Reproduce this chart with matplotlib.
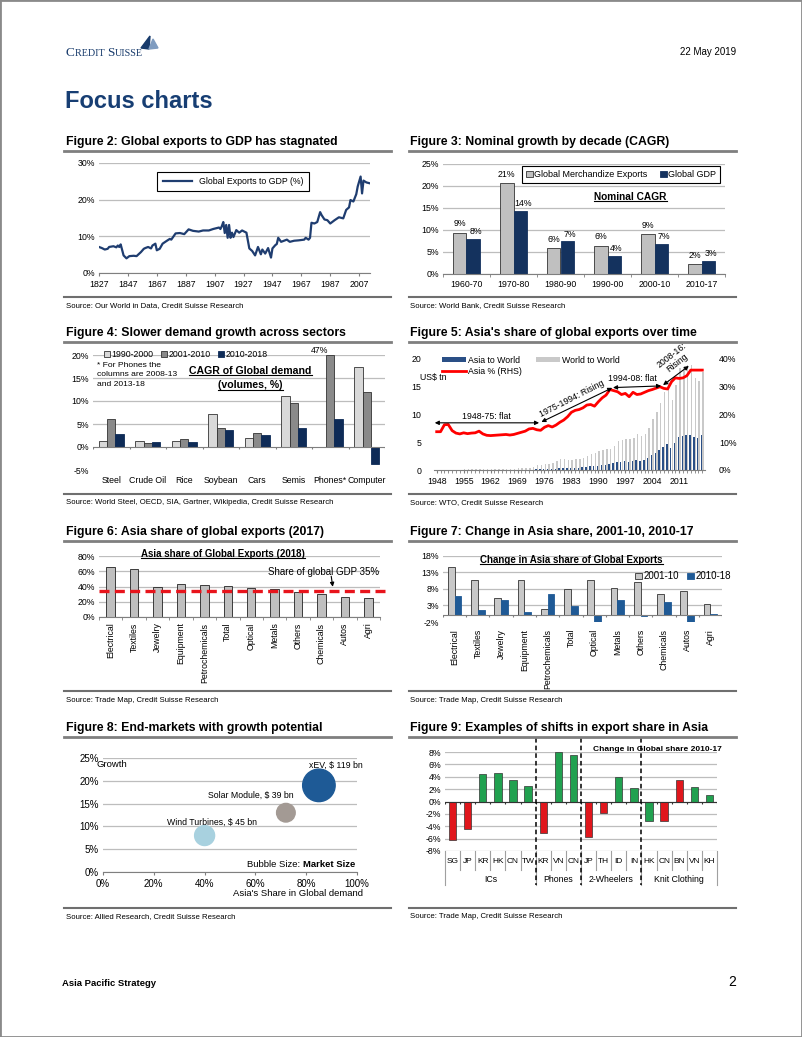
import numpy as np
import matplotlib
matplotlib.use('Agg')
import matplotlib.pyplot as plt
from matplotlib.lines import Line2D
from matplotlib.patches import Rectangle, Polygon

plt.rcParams['font.family'] = ['Liberation Sans Narrow', 'Liberation Sans', 'DejaVu Sans']
plt.rcParams['font.size'] = 6.5
plt.rcParams['axes.linewidth'] = 0.8

# ---------------- data ----------------
# Figure 2: global exports to GDP (%)
exp_years = [1827, 1829, 1831, 1833, 1834, 1837, 1839, 1840, 1841, 1842, 1844, 1846, 1848, 1851,
             1853, 1856, 1858, 1859, 1861, 1863, 1864, 1866, 1867, 1869, 1871, 1874, 1876, 1877,
             1880, 1883, 1886, 1889, 1892, 1896, 1899, 1903, 1906, 1910, 1911, 1912, 1913, 1914,
             1915, 1916, 1917, 1918, 1919, 1920, 1922, 1924, 1926, 1929, 1931, 1933, 1935, 1937,
             1939, 1940, 1942, 1944, 1946, 1947, 1949, 1950, 1951, 1953, 1955, 1957, 1959, 1962,
             1965, 1969, 1970, 1972, 1973, 1974, 1976, 1978, 1980, 1981, 1983, 1985, 1987, 1990,
             1993, 1996, 1998, 2000, 2001, 2003, 2005, 2006, 2008, 2009, 2010, 2012, 2014]
exp_gdp = [7.1, 6.8, 6.4, 6.6, 7.1, 7.3, 7.0, 7.5, 7.1, 7.8, 4.8, 4.0, 4.6, 4.7,
           4.6, 5.7, 6.6, 6.8, 7.1, 6.7, 7.5, 8.0, 6.2, 6.6, 8.0, 8.8, 9.3, 9.1,
           10.8, 10.9, 10.6, 11.9, 11.5, 11.3, 11.6, 11.6, 12.0, 12.4, 12.0, 12.8, 13.9, 10.9,
           13.1, 9.6, 13.1, 9.6, 11.0, 9.8, 11.7, 11.0, 11.6, 11.0, 6.7, 6.0, 4.8, 7.1,
           5.1, 6.4, 5.3, 6.8, 4.2, 6.7, 7.6, 7.9, 9.6, 8.5, 8.8, 9.1, 8.5, 8.8,
           8.9, 9.1, 9.6, 9.1, 9.6, 13.7, 13.5, 13.9, 16.6, 15.8, 14.6, 14.4, 13.5, 14.4,
           15.2, 14.9, 17.2, 17.9, 19.9, 19.5, 21.5, 23.6, 26.3, 21.7, 25.2, 24.7, 24.5]

# Figure 3: nominal CAGR by decade (%)
decades = ['1960-70', '1970-80', '1980-90', '1990-00', '2000-10', '2010-17']
merch_exports = [9.4, 20.7, 5.9, 6.4, 9.1, 2.2]
global_gdp = [8.0, 14.3, 7.4, 4.1, 6.9, 3.0]

# Figure 4: CAGR of global demand (%)
sectors = ['Steel', 'Crude Oil', 'Rice', 'Soybean', 'Cars', 'Semis', 'Phones*', 'Computer']
cagr_90_00 = [1.2, 1.2, 1.4, 7.1, 1.9, 11.1, np.nan, 17.4]
cagr_01_10 = [6.0, 0.8, 1.7, 4.2, 3.0, 9.5, 47.0, 11.9]
cagr_10_18 = [2.8, 1.0, 1.0, 3.7, 2.7, 4.1, 6.0, -3.6]

# Figure 5: exports (US$ tn) and Asia share (%)
years5 = list(range(1948, 2018))
world_exports = [0.059, 0.058, 0.062, 0.082, 0.080, 0.083, 0.086, 0.094, 0.104, 0.112,
                 0.108, 0.116, 0.130, 0.134, 0.142, 0.155, 0.173, 0.188, 0.205, 0.215,
                 0.240, 0.274, 0.317, 0.354, 0.419, 0.579, 0.839, 0.877, 0.992, 1.128,
                 1.307, 1.659, 2.036, 2.009, 1.883, 1.846, 1.956, 1.954, 2.138, 2.516,
                 2.869, 3.081, 3.49, 3.515, 3.766, 3.782, 4.326, 5.17, 5.39, 5.59,
                 5.50, 5.72, 6.45, 6.19, 6.49, 7.59, 9.22, 10.51, 12.13, 14.02,
                 16.16, 12.56, 15.30, 18.34, 18.50, 18.95, 19.0, 16.55, 16.04, 17.73]
asia_exports = [0.008, 0.008, 0.011, 0.013, 0.011, 0.011, 0.012, 0.013, 0.014, 0.015,
                0.015, 0.016, 0.017, 0.017, 0.017, 0.019, 0.021, 0.024, 0.026, 0.027,
                0.031, 0.035, 0.043, 0.049, 0.059, 0.085, 0.12, 0.125, 0.155, 0.18,
                0.21, 0.255, 0.335, 0.35, 0.35, 0.37, 0.40, 0.41, 0.47, 0.56,
                0.65, 0.75, 0.80, 0.88, 0.98, 1.10, 1.27, 1.50, 1.48, 1.59,
                1.46, 1.59, 1.82, 1.67, 1.82, 2.16, 2.67, 3.09, 3.58, 4.07,
                4.69, 4.02, 4.90, 5.96, 6.11, 6.35, 6.37, 5.96, 5.78, 6.30]
asia_share = [13.8, 13.8, 16.3, 16.4, 14.2, 13.3, 13.0, 13.4, 13.1, 13.3,
              13.4, 14.0, 13.0, 12.5, 12.4, 12.5, 12.6, 12.7, 12.8, 12.6,
              12.8, 13.2, 13.6, 14.0, 14.8, 15.0, 14.5, 14.3, 15.4, 16.0,
              15.5, 16.2, 17.2, 18.0, 19.2, 20.8, 21.5, 21.8, 22.4, 23.4,
              23.6, 23.0, 24.6, 26.0, 27.0, 29.0, 28.6, 28.2, 27.2, 27.6,
              26.4, 28.0, 27.2, 27.4, 28.0, 28.6, 29.0, 29.5, 30.0, 29.4,
              29.2, 31.8, 33.2, 33.0, 33.2, 34.0, 36.0, 36.0, 36.0, 36.0]

# Figures 6 and 7
products = ['Electrical', 'Textiles', 'Jewelry', 'Equipment', 'Petrochemicals', 'Total',
            'Optical', 'Metals', 'Others', 'Chemicals', 'Autos', 'Agri']
asia_share_2018 = [65.5, 63.3, 39.3, 43.2, 42.4, 40.6, 37.6, 36.7, 32.8, 30.6, 26.6, 25.3]
gdp_share = 34
chg_01_10 = [14.8, 10.7, 5.4, 10.7, 1.9, 7.9, 10.7, 8.4, 10.2, 6.4, 7.5, 3.6]
chg_10_18 = [6.0, 1.5, 4.8, 0.9, 6.5, 2.9, -2.0, 4.6, -0.1, 4.1, -2.0, 0.5]

# Figure 8: bubbles
markets = ['Wind Turbines', 'Solar Module', 'xEV']
asia_demand = [0.40, 0.72, 0.85]
growth = [0.08, 0.13, 0.19]
market_size = [45, 39, 119]

# Figure 9: change in global share 2010-17 (%)
groups = ['ICs', 'Phones', '2-Wheelers', 'Knit Clothing']
group_countries = [['SG', 'JP', 'KR', 'HK', 'CN', 'TW'], ['KR', 'VN', 'CN'],
                   ['JP', 'TH', 'ID', 'IN'], ['HK', 'CN', 'BN', 'VN', 'KH']]
share_change = [-6.2, -4.4, 4.5, 4.6, 3.4, 2.5, -5.1, 8.0, 7.5, -5.8, -1.9, 4.0, 2.2,
                -3.1, -3.2, 3.4, 2.3, 1.1]
is_red = [1, 1, 0, 0, 0, 0, 1, 0, 0, 1, 1, 0, 0, 0, 1, 1, 0, 0]

# ---------------- page ----------------
W, H = 802, 1037
fig = plt.figure(figsize=(W / 100, H / 100), dpi=100)
renderer = fig.canvas.get_renderer()
GRID = '#bdbdbd'
NAVY = '#173a6b'
TS = 6.3  # tick label size


def px_ax(l, t, r, b):
    return fig.add_axes([l / W, 1 - b / H, (r - l) / W, (b - t) / H])


def ftext(x, y, s, **kw):
    return fig.text(x / W, 1 - y / H, s, **kw)


def fline(x0, x1, y0, y1, **kw):
    fig.add_artist(Line2D([x0 / W, x1 / W], [1 - y0 / H, 1 - y1 / H],
                          transform=fig.transFigure, **kw))


def underline(t, lw=0.8):
    bb = t.get_window_extent(renderer)
    fig.add_artist(Line2D([bb.x0 / W, bb.x1 / W], [(bb.y0 + 0.5) / H] * 2,
                          transform=fig.transFigure, color='black', lw=lw))


def clean(ax, grid=True):
    for s in ['top', 'right', 'left']:
        ax.spines[s].set_visible(False)
    ax.spines['bottom'].set_color('#7f7f7f')
    ax.tick_params(axis='y', length=0, pad=3, labelsize=TS)
    ax.tick_params(axis='x', labelsize=TS)
    if grid:
        ax.yaxis.grid(True, color=GRID, lw=0.9)
        ax.set_axisbelow(True)


def pct(ax, dec=0):
    ax.set_yticklabels([f'{v:.{dec}f}%' for v in ax.get_yticks()])


# border, header, footer
fig.add_artist(Rectangle((0, 0), 1, 1, transform=fig.transFigure, fill=False,
                         edgecolor='#8a8a8a', lw=2))
# small-caps style logo text
xpos = 66
for part, big in [('C', True), ('REDIT ', False), ('S', True), ('UISSE', False)]:
    t = ftext(xpos, 56, part, family='Liberation Serif', fontsize=9.5 if big else 7.3,
              color=NAVY, va='baseline')
    xpos += t.get_window_extent(renderer).width
fig.add_artist(Polygon([[141 / W, 1 - 48 / H], [150 / W, 1 - 36 / H], [149 / W, 1 - 49 / H]],
                       closed=True, transform=fig.transFigure, color=NAVY))
fig.add_artist(Polygon([[149 / W, 1 - 49 / H], [153 / W, 1 - 39 / H], [158 / W, 1 - 48 / H]],
                       closed=True, transform=fig.transFigure, color='#7f9cc0'))
ftext(736, 52, '22 May 2019', fontsize=7, ha='right', va='center')
ftext(65, 101, 'Focus charts', fontsize=17, weight='bold', color='#173e73', va='center')
ftext(62, 984, 'Asia Pacific Strategy', fontsize=6.8, weight='bold', va='center')
ftext(736, 982, '2', fontsize=10, ha='right', va='center', family='Liberation Sans')

titles = [(142, 'Figure 2: Global exports to GDP has stagnated', 'Figure 3: Nominal growth by decade (CAGR)'),
          (333, 'Figure 4: Slower demand growth across sectors', "Figure 5: Asia's share of global exports over time"),
          (532, 'Figure 6: Asia share of global exports (2017)', 'Figure 7: Change in Asia share, 2001-10, 2010-17'),
          (728, 'Figure 8: End-markets with growth potential', 'Figure 9: Examples of shifts in export share in Asia')]
for y, tl, tr in titles:
    ftext(66, y, tl, fontsize=8.8, weight='bold', va='center')
    ftext(410, y, tr, fontsize=8.8, weight='bold', va='center')
    fline(64, 391, y + 9, y + 9, color='#7f7f7f', lw=2)
    fline(409, 736, y + 9, y + 9, color='#7f7f7f', lw=2)

sources = [(297, 'Source: Our World in Data, Credit Suisse Research', 'Source: World Bank, Credit Suisse Research'),
           (494, 'Source: World Steel, OECD, SIA, Gartner, Wikipedia, Credit Suisse Research', 'Source: WTO, Credit Suisse Research'),
           (691, 'Source: Trade Map, Credit Suisse Research', 'Source: Trade Map, Credit Suisse Research'),
           (908, 'Source: Allied Research, Credit Suisse Research', 'Source: Trade Map, Credit Suisse Research')]
for y, sl, sr in sources:
    fline(64, 391, y, y, color='#6f6f6f', lw=1.5)
    fline(409, 736, y, y, color='#6f6f6f', lw=1.5)
    ftext(66, y + 9, sl, fontsize=5.6, family='Liberation Sans', va='center')
    ftext(410, y + 9, sr, fontsize=5.6, family='Liberation Sans', va='center')

# ---------------- Figure 2 ----------------
ax = px_ax(99, 163, 370, 273)
clean(ax)
ax.plot(exp_years, exp_gdp, color='#1f3d70', lw=1.6, label='Global Exports to GDP (%)')
ax.set_xlim(1827, 2014.5)
ax.set_ylim(0, 30)
ax.set_yticks([0, 10, 20, 30])
pct(ax)
ax.set_xticks(list(range(1827, 2008, 20)))
ax.tick_params(axis='x', length=2, color='#7f7f7f', pad=3)
leg = ax.legend(loc='center', bbox_to_anchor=(0.495, 0.83), fancybox=False, edgecolor='black',
                fontsize=6.3, handlelength=3.4, borderpad=0.6, framealpha=1)
leg.get_frame().set_linewidth(0.8)

# ---------------- Figure 3 ----------------
ax = px_ax(443, 164, 725, 274)
clean(ax)
x = np.arange(len(decades))
w = 0.285
ax.bar(x - w / 2, merch_exports, w, color='#c0c0c0', edgecolor='#333333', lw=0.6,
       label='Global Merchandize Exports')
ax.bar(x + w / 2, global_gdp, w, color='#14325e', edgecolor='#14325e', lw=0.6, label='Global GDP')
for xi, v in zip(x - w / 2, merch_exports):
    ax.text(xi, v + 1.0, f'{v:.0f}%', ha='center', va='bottom', fontsize=TS)
for xi, v in zip(x + w / 2, global_gdp):
    ax.text(xi + 0.05, v + 0.6, f'{v:.0f}%', ha='center', va='bottom', fontsize=TS)
ax.set_xlim(-0.5, len(decades) - 0.5)
ax.set_ylim(0, 25)
ax.set_yticks(range(0, 26, 5))
pct(ax)
ax.set_xticks(x)
ax.set_xticklabels(decades)
ax.tick_params(axis='x', length=0, pad=4)
ax.set_xticks(np.arange(-0.5, len(decades), 1), minor=True)
ax.tick_params(axis='x', which='minor', length=2, color='#7f7f7f')
leg = ax.legend(loc='upper right', bbox_to_anchor=(1.0, 1.02), ncol=2, fancybox=False,
                edgecolor='black', fontsize=6.5, handlelength=0.7, handleheight=0.7,
                handletextpad=0.2, columnspacing=1.4, borderpad=0.45, framealpha=1)
leg.get_frame().set_linewidth(0.8)
t = ax.text(0.665, 0.7, 'Nominal CAGR', transform=ax.transAxes, ha='center', va='center',
            fontsize=7.3, weight='bold')
underline(t)

# ---------------- Figure 4 ----------------
ax = px_ax(93, 355, 385, 470)
clean(ax)
x = np.arange(len(sectors))
w = 0.23
ax.bar(x - w, cagr_90_00, w, color='#d9d9d9', edgecolor='#333333', lw=0.6, label='1990-2000')
ax.bar(x, np.minimum(cagr_01_10, 20), w, color='#8a8a8a', edgecolor='#333333', lw=0.6, label='2001-2010')
ax.bar(x + w, cagr_10_18, w, color='#0e2b57', edgecolor='#0e2b57', lw=0.6, label='2010-2018')
ax.axhline(0, color='#7f7f7f', lw=0.8)
ax.vlines(np.arange(-0.5, len(sectors), 1), -0.5, 0, color='#7f7f7f', lw=0.8)
ax.spines['bottom'].set_visible(False)
ax.set_xlim(-0.5, len(sectors) - 0.5)
ax.set_ylim(-5, 20)
ax.set_yticks(range(-5, 21, 5))
pct(ax)
ax.yaxis.grid(False)
for gy in [5, 10, 15, 20]:
    ax.axhline(gy, color=GRID, lw=0.9, zorder=0)
ax.set_xticks(x)
ax.set_xticklabels(sectors)
ax.tick_params(axis='x', length=0, pad=4)
ax.legend(loc='upper left', bbox_to_anchor=(0.01, 1.11), ncol=3, frameon=False, fontsize=TS,
          handlelength=0.7, handleheight=0.7, handletextpad=0.2, columnspacing=0.8)
ax.text(0.015, 0.94, '* For Phones the\ncolumns are 2008-13\nand 2013-18', transform=ax.transAxes,
        ha='left', va='top', fontsize=6.1, linespacing=1.5)
t1 = ax.text(0.54, 0.865, 'CAGR of Global demand', transform=ax.transAxes, ha='center',
             va='center', fontsize=7.6, weight='bold')
t2 = ax.text(0.54, 0.735, '(volumes, %)', transform=ax.transAxes, ha='center', va='center',
             fontsize=7.6, weight='bold')
underline(t1)
underline(t2)
ax.text(6 - 0.3, 20.0, f'{cagr_01_10[6]:.0f}%', ha='center', va='bottom', fontsize=TS)

# ---------------- Figure 5 ----------------
ax = px_ax(434, 359, 705, 470)
clean(ax, grid=False)
yr = np.array(years5)
ba = ax.bar(yr - 0.2, asia_exports, 0.38, color='#2a4f86', label='Asia to World')
bw = ax.bar(yr + 0.2, world_exports, 0.38, color='#c9c9c9', label='World to World')
ax.set_xlim(1947.3, 2017.7)
ax.set_ylim(0, 20)
ax.set_yticks(range(0, 21, 5))
ax.set_xticks(list(range(1948, 2012, 7)))
ax.set_xticks(years5, minor=True)
ax.tick_params(axis='x', which='both', length=2, color='#7f7f7f', pad=3)
ax.tick_params(axis='y', pad=9)
ax.text(-0.052, 0.835, 'US$ tn', transform=ax.transAxes, fontsize=TS, va='center')
ax2 = ax.twinx()
for s in ['top', 'right', 'left', 'bottom']:
    ax2.spines[s].set_visible(False)
ln, = ax2.plot(years5, asia_share, color='#ff0000', lw=2, label='Asia % (RHS)')
ax2.set_ylim(0, 40)
ax2.set_yticks(range(0, 41, 10))
ax2.set_yticklabels([f'{v}%' for v in range(0, 41, 10)])
ax2.tick_params(axis='y', length=0, pad=10, labelsize=TS)
ax.legend(handles=[ba, ln, bw], labels=['Asia to World', 'Asia % (RHS)', 'World to World'],
          loc='upper left', bbox_to_anchor=(0.0, 1.1), ncol=2, frameon=False, fontsize=TS,
          handlelength=2.7, handleheight=0.4, handletextpad=0.3, columnspacing=1.6,
          labelspacing=0.2)
arw = dict(arrowstyle='<|-|>', color='black', lw=0.8, mutation_scale=6, shrinkA=0, shrinkB=0)
ax2.annotate('', xy=(1947.5, 17.0), xytext=(1974.6, 17.0), arrowprops=arw)
ax2.text(1961, 19.4, '1948-75: flat', ha='center', va='center', fontsize=TS)
ax2.annotate('', xy=(1975.2, 17.3), xytext=(1993.6, 29.6), arrowprops=arw)
ax2.text(1983.0, 25.6, '1975-1994: Rising', ha='center', va='center', fontsize=TS, rotation=27)
ax2.annotate('', xy=(1993.8, 29.7), xytext=(2006.3, 30.3), arrowprops=arw)
ax2.text(1998.8, 33.0, '1994-08: flat', ha='center', va='center', fontsize=TS)
ax2.annotate('', xy=(2006.8, 30.6), xytext=(2013.5, 37.5), arrowprops=arw)
ax2.text(2009.8, 40.0, '2008-16:\nRising', ha='center', va='center', fontsize=TS, rotation=38,
         linespacing=1.0, clip_on=False)

# ---------------- Figure 6 ----------------
ax = px_ax(99, 556, 380, 617)
clean(ax)
x = np.arange(len(products))
ax.bar(x, asia_share_2018, 0.36, color='#bfbfbf', edgecolor='#222222', lw=0.6)
ax.axhline(gdp_share, xmin=0, xmax=1.02, color='#e8141c', lw=2.4, ls=(0, (3, 1.6)), clip_on=False)
ax.set_xlim(-0.5, len(products) - 0.5)
ax.set_ylim(0, 80)
ax.set_yticks(range(0, 81, 20))
pct(ax)
ax.set_xticks(x)
ax.set_xticklabels(products, rotation=90, va='top')
ax.tick_params(axis='x', length=0, pad=4)
ax.set_xticks(np.arange(-0.5, len(products), 1), minor=True)
ax.tick_params(axis='x', which='minor', length=2, color='#7f7f7f')
t = ax.text(0.44, 1.04, 'Asia share of Global Exports (2018)', transform=ax.transAxes,
            ha='center', va='center', fontsize=7, weight='bold')
underline(t)
ax.text(0.60, 0.74, 'Share of global GDP 35%', transform=ax.transAxes, ha='left',
        va='center', fontsize=7)
ax.annotate('', xy=(9.5, gdp_share + 2), xytext=(9.4, 57),
            arrowprops=dict(arrowstyle='-|>', color='black', lw=0.8, mutation_scale=6))

# ---------------- Figure 7 ----------------
ax = px_ax(443, 556, 722, 622)
clean(ax)
ax.spines['bottom'].set_visible(False)
w = 0.29
ax.bar(x - w / 2, chg_01_10, w, color='#c8c8c8', edgecolor='#333333', lw=0.6, label='2001-10')
ax.bar(x + w / 2, chg_10_18, w, color='#1f5a96', edgecolor='#1f5a96', lw=0.6, label='2010-18')
ax.axhline(0, color='#7f7f7f', lw=0.8)
ax.vlines(np.arange(-0.5, len(products), 1), -0.6, 0, color='#7f7f7f', lw=0.8)
ax.set_xlim(-0.5, len(products) - 0.5)
ax.set_ylim(-2, 18)
ax.set_yticks(range(-2, 19, 5))
pct(ax)
ax.yaxis.grid(False)
for gy in [3, 8, 13, 18]:
    ax.axhline(gy, color=GRID, lw=0.9, zorder=0)
ax.set_xticks(x)
ax.set_xticklabels(products, rotation=90, va='top')
ax.tick_params(axis='x', length=0, pad=5)
t = ax.text(0.46, 0.94, 'Change in Asia share of Global Exports', transform=ax.transAxes,
            ha='center', va='center', fontsize=7, weight='bold')
underline(t)
ax.legend(loc='upper right', bbox_to_anchor=(1.065, 0.9), ncol=2, frameon=False, fontsize=7,
          handlelength=0.7, handleheight=0.7, handletextpad=0.2, columnspacing=0.8)

# ---------------- Figure 8 ----------------
ax = px_ax(103, 758, 357, 872)
clean(ax)
bcol = ['#a8d1df', '#a39a94', '#1e5a96']
ax.scatter(asia_demand, growth, s=[m * 4.6 for m in market_size], c=bcol, zorder=3)
ax.set_xlim(0, 1)
ax.set_ylim(0, 0.25)
ax.set_yticks(np.arange(0, 0.26, 0.05))
ax.set_yticklabels([f'{v * 100:.0f}%' for v in np.arange(0, 0.26, 0.05)])
ax.set_xticks(np.arange(0, 1.01, 0.2))
ax.set_xticklabels([f'{v * 100:.0f}%' for v in np.arange(0, 1.01, 0.2)])
ax.tick_params(axis='x', length=2, color='#7f7f7f', pad=3, labelsize=7)
ax.tick_params(axis='y', labelsize=7)
lab_pos = [(0.43, 0.11), (0.58, 0.169), (0.917, 0.2346)]
for (lx, ly), nm, sz in zip(lab_pos, markets, market_size):
    ax.text(lx, ly, f'{nm}, $ {sz} bn', ha='center', va='center', fontsize=6.3)
ax.text(-0.025, 0.94, 'Growth', transform=ax.transAxes, ha='left', va='center', fontsize=6.8)
ax.text(0.786, 0.065, 'Bubble Size: ', transform=ax.transAxes, ha='right', va='center', fontsize=6.8)
ax.text(0.786, 0.065, 'Market Size', transform=ax.transAxes, ha='left', va='center',
        fontsize=6.8, weight='bold')
ftext(298, 894, "Asia's Share in Global demand", ha='center', va='center', fontsize=6.8)

# ---------------- Figure 9 ----------------
ax = px_ax(445, 752, 717, 851)
clean(ax)
ax.spines['bottom'].set_visible(False)
countries = [c for g in group_countries for c in g]
x = np.arange(len(countries))
cols = ['#e0161c' if r else '#21a150' for r in is_red]
ax.bar(x, share_change, 0.48, color=cols, edgecolor='#333333', lw=0.5, zorder=2)
ax.axhline(0, color='#333333', lw=0.8, zorder=3)
ax.vlines(np.arange(-0.5, len(countries), 1), -0.35, 0, color='#333333', lw=0.8)
ax.set_xlim(-0.5, len(countries) - 0.5)
ax.set_ylim(-8, 8)
ax.set_yticks(range(-8, 9, 2))
pct(ax)
ax.set_xticks([])
tr = ax.get_xaxis_transform()
sizes = [len(g) for g in group_countries]
bounds = np.concatenate([[0], np.cumsum(sizes)]) - 0.5
for i, c in enumerate(countries):
    ax.text(i, -0.111, c, transform=tr, ha='center', va='center', fontsize=6, clip_on=False)
for bx in np.arange(-0.5, len(countries), 1):
    is_group = np.any(np.isclose(bx, bounds))
    ax.plot([bx, bx], [0, -0.34 if is_group else -0.19], transform=tr, color='#a0a0a0', lw=0.8,
            clip_on=False)
for gi, g in enumerate(groups):
    ax.text((bounds[gi] + bounds[gi + 1]) / 2, -0.283, g, transform=tr, ha='center',
            va='center', fontsize=6.3, clip_on=False)
for bx in bounds[1:-1]:
    ax.plot([bx, bx], [1.14, -0.34], transform=tr, color='black', lw=1.1, ls=(0, (3, 2)),
            clip_on=False, zorder=4)
ax.text(0.78, 1.03, 'Change in Global share 2010-17', transform=ax.transAxes, ha='center',
        va='center', fontsize=6, weight='bold')

fig.savefig('out.png', dpi=100)
